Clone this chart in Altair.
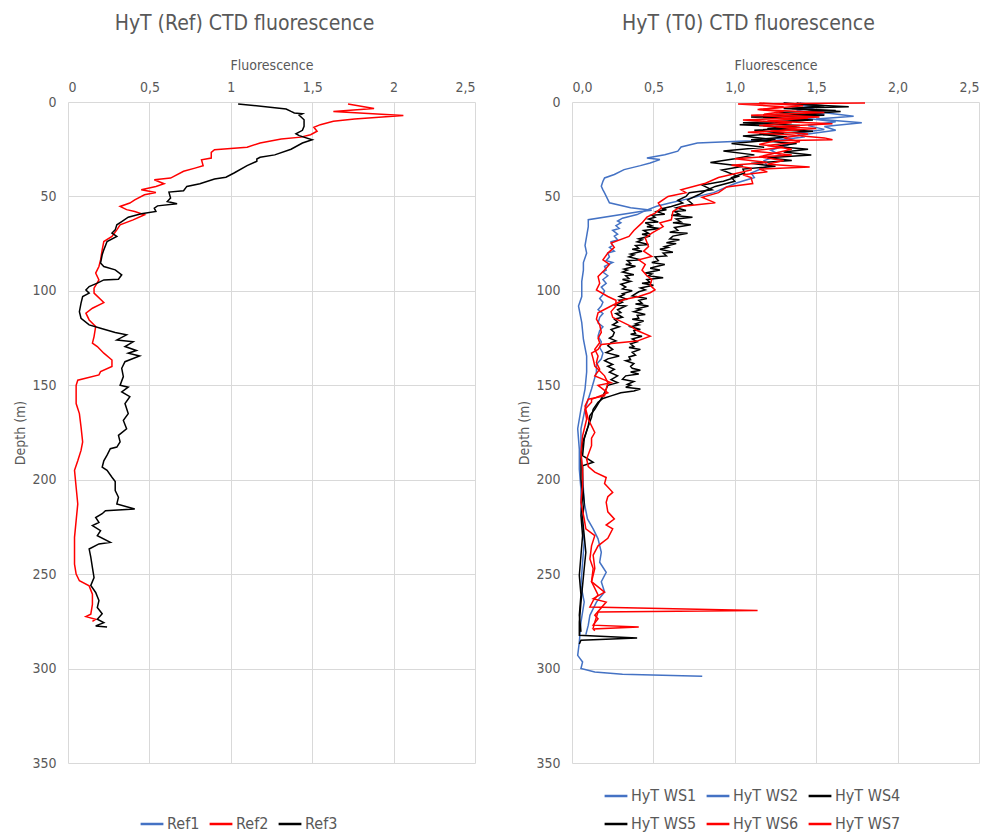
import altair as alt
import pandas as pd

BLUE = "#4472C4"
RED = "#FF0000"
BLACK = "#000000"
GREY = "#595959"
FONT = "Liberation Sans Narrow, DejaVu Sans Condensed, Roboto, sans-serif"

# (depth m, fluorescence)
ref2 = [(1, 1.72), (3.5, 1.88), (5, 1.63), (7.2, 2.06), (9, 1.76), (10.2, 1.63), (12, 1.55), (13.4, 1.51),
        (15.5, 1.53), (17.3, 1.49), (18.6, 1.43), (19.6, 1.31), (21.7, 1.18), (23.9, 1.10), (25.3, 0.90),
        (26.7, 0.88), (29.7, 0.88), (30.6, 0.82), (33.7, 0.83), (35, 0.78), (36.7, 0.71), (40.3, 0.63),
        (41.2, 0.53), (43.3, 0.59), (44.7, 0.54), (46.5, 0.45), (47.9, 0.54), (49.1, 0.47), (51.8, 0.41),
        (53.5, 0.38), (55.3, 0.32), (57, 0.36), (58, 0.41), (59.7, 0.47), (62.4, 0.40), (65, 0.32),
        (67.7, 0.30), (71.2, 0.27), (73.9, 0.22), (78.3, 0.21), (83.6, 0.20), (87.1, 0.19), (90.6, 0.17),
        (94.2, 0.19), (98.6, 0.16), (101.2, 0.16), (106.2, 0.22), (109.2, 0.15), (111.8, 0.11), (115.4, 0.13),
        (118.9, 0.17), (124.2, 0.16), (127.7, 0.15), (129.5, 0.18), (133, 0.22), (136.6, 0.27), (140, 0.27),
        (142.8, 0.20), (144.5, 0.19), (147.3, 0.06), (150, 0.05), (159.7, 0.05), (165, 0.07), (172, 0.08),
        (180, 0.09), (184.5, 0.08), (190, 0.06), (195, 0.04), (204, 0.05), (212.8, 0.06), (221.7, 0.05),
        (230.5, 0.04), (244.7, 0.04), (250, 0.05), (253.5, 0.07), (256.2, 0.13), (260.6, 0.15), (266, 0.15),
        (271.2, 0.14), (272.5, 0.11), (273.9, 0.17), (275, 0.15)]

ref3 = [(1, 1.045), (3.7, 1.34), (5, 1.37), (5.8, 1.39), (6.2, 1.44), (7, 1.42), (9.4, 1.45), (12.9, 1.45),
        (15, 1.44), (16.8, 1.40), (17.8, 1.42), (20, 1.50), (21.7, 1.44), (25, 1.37), (28, 1.27), (29.3, 1.18),
        (30.2, 1.16), (31.4, 1.16), (33.7, 1.10), (37.6, 1.02), (39.8, 0.97), (40.8, 0.90), (43.3, 0.81),
        (44.7, 0.73), (47, 0.71), (47.7, 0.62), (50.9, 0.63), (52.7, 0.61), (53.9, 0.67), (55, 0.55),
        (56.2, 0.53), (58, 0.54), (59.2, 0.45), (61, 0.37), (63.3, 0.33), (65, 0.30), (67.7, 0.29),
        (69.4, 0.27), (71.2, 0.30), (73.9, 0.24), (78.3, 0.22), (80.9, 0.21), (85.3, 0.20), (87.1, 0.22),
        (88.9, 0.29), (91.5, 0.33), (93.8, 0.31), (94.2, 0.22), (95.9, 0.18), (97.7, 0.13), (99.5, 0.11),
        (101.2, 0.13), (103, 0.09), (106.5, 0.08), (111, 0.07), (114.5, 0.08), (118, 0.13), (119.8, 0.20),
        (122, 0.29), (123.3, 0.36), (126, 0.30), (127, 0.40), (129.5, 0.35), (131.6, 0.42), (133, 0.37),
        (134.5, 0.44), (137.5, 0.35), (141, 0.33), (145.4, 0.34), (150, 0.32), (151, 0.37), (153.5, 0.33),
        (156, 0.38), (159.7, 0.35), (165, 0.37), (168.6, 0.34), (173, 0.36), (176.5, 0.31), (180, 0.32),
        (182.7, 0.30), (183.6, 0.26), (187, 0.24), (190, 0.22), (193.4, 0.21), (195, 0.24), (198.7, 0.27),
        (201, 0.29), (205.8, 0.29), (209.3, 0.31), (212.8, 0.30), (215.5, 0.41), (216.4, 0.23), (218, 0.21),
        (220, 0.17), (222.6, 0.19), (224.3, 0.15), (227, 0.20), (229.6, 0.18), (233.2, 0.26), (234, 0.19),
        (236.7, 0.13), (241, 0.14), (246.5, 0.15), (251.8, 0.16), (256, 0.14), (259.7, 0.17), (264, 0.19),
        (267.7, 0.18), (271, 0.21), (273.9, 0.18), (275.7, 0.22), (277.4, 0.17), (278, 0.24)]

ws1 = [(0.5, 1.40), (2, 1.52), (4, 1.45), (6, 1.58), (7.6, 1.73), (9, 1.50), (11, 1.78), (13, 1.55),
       (15, 1.62), (17, 1.45), (19, 1.28), (20.5, 1.10), (21.7, 0.77), (23.8, 0.67), (26, 0.65), (27.9, 0.57),
       (29.6, 0.46), (30.5, 0.54), (32.3, 0.48), (33.7, 0.42), (35.8, 0.32), (38.4, 0.26), (40.2, 0.20),
       (42, 0.19), (44.6, 0.18), (46.5, 0.19), (48.1, 0.20), (53.4, 0.23), (56, 0.36), (57.3, 0.49),
       (58, 0.42), (62.3, 0.10), (66, 0.10), (71, 0.09), (76, 0.08), (80, 0.09), (85, 0.07), (89, 0.07),
       (95, 0.06), (103, 0.06), (108, 0.04), (116.8, 0.06), (125.6, 0.07), (134.5, 0.09), (143, 0.09),
       (152, 0.08), (162.7, 0.055), (173, 0.035), (183.8, 0.045), (194.4, 0.045), (205, 0.055), (215.5, 0.055),
       (224.3, 0.065), (233, 0.075), (243.7, 0.065), (256, 0.055), (264.8, 0.075), (275.4, 0.055), (286, 0.045),
       (293, 0.035), (296.5, 0.065), (300, 0.055), (301.8, 0.14), (303, 0.31), (304, 0.80)]

ws2 = [(0.5, 1.30), (2.5, 1.48), (4.5, 1.38), (6.5, 1.55), (8.5, 1.42), (10.5, 1.62), (12.5, 1.45),
       (14.5, 1.55), (16.5, 1.38), (18.5, 1.42), (20.5, 1.25), (23, 1.32), (25.5, 1.22), (28, 1.28), (31, 1.18),
       (34, 1.20), (37.6, 1.10), (40, 1.12), (42.9, 1.01), (45, 0.95), (48, 0.87), (51.7, 0.69), (53.5, 0.60),
       (55.2, 0.52), (57.5, 0.45), (59.6, 0.40), (61.5, 0.31), (63, 0.28), (64, 0.30), (65.5, 0.27), (67, 0.29),
       (68, 0.25), (70, 0.28), (71, 0.26), (73, 0.28), (74, 0.24), (76, 0.25), (77, 0.23), (79, 0.26),
       (80, 0.22), (82, 0.23), (84, 0.21), (85, 0.25), (87, 0.20), (89, 0.21), (90, 0.19), (92, 0.22),
       (94, 0.19), (96, 0.21), (98, 0.18), (100, 0.20), (102, 0.19), (104, 0.17), (106, 0.19), (108, 0.18),
       (110, 0.16), (112, 0.19), (114, 0.17), (117, 0.16), (119, 0.19), (121, 0.17), (124, 0.16), (127, 0.18),
       (130, 0.17), (133, 0.19), (136, 0.18), (139, 0.15), (143, 0.15), (152, 0.12), (162.7, 0.08),
       (173, 0.055), (185.6, 0.055), (198, 0.065), (212, 0.075), (220.8, 0.095), (226, 0.13), (231.3, 0.16),
       (238.4, 0.18), (243.7, 0.17), (249, 0.21), (254, 0.18), (259.5, 0.20), (264.8, 0.15), (271.8, 0.11),
       (277, 0.10), (282, 0.085)]

ws4 = [(0.5, 1.38), (1.5, 1.45), (2.5, 1.70), (3.5, 1.30), (4.5, 1.62), (5.5, 1.25), (7, 1.55), (8, 1.10),
       (9.5, 1.48), (11, 1.05), (12.5, 1.40), (14, 1.20), (15.5, 1.48), (17, 1.15), (18.5, 1.32), (20, 1.10),
       (22, 1.38), (23.5, 1.25), (25, 1.45), (26.5, 1.30), (28, 1.47), (29.5, 1.20), (31, 1.35), (32.5, 1.10),
       (34, 1.25), (35.5, 1.05), (37.6, 1.06), (40, 0.98), (42, 1.00), (44.7, 0.88), (47, 0.82), (49, 0.78),
       (51.8, 0.71), (54, 0.74), (56, 0.64), (57.5, 0.70), (58, 0.63), (59.5, 0.66), (60, 0.61), (61, 0.74),
       (62, 0.64), (63.5, 0.67), (64, 0.62), (65, 0.73), (66.5, 0.63), (68, 0.65), (69, 0.60), (69.5, 0.71),
       (71, 0.62), (72.5, 0.60), (73, 0.66), (74.5, 0.58), (75, 0.64), (76.5, 0.57), (77, 0.59), (78, 0.54),
       (79.5, 0.62), (80, 0.56), (81.5, 0.58), (82, 0.51), (84, 0.53), (85, 0.49), (86, 0.57), (87.5, 0.50),
       (88, 0.48), (89, 0.54), (90.5, 0.45), (91, 0.49), (92, 0.47), (93, 0.56), (94, 0.46), (95.5, 0.48),
       (96, 0.43), (97, 0.50), (98.5, 0.42), (99.5, 0.45), (100.5, 0.41), (102.6, 0.37), (104, 0.46),
       (105, 0.41), (106.5, 0.43), (107, 0.39), (108, 0.47), (109.5, 0.40), (110, 0.42), (111, 0.38),
       (112.5, 0.45), (113, 0.40), (114.5, 0.41), (115, 0.37), (116, 0.44), (117.5, 0.39), (118, 0.41),
       (119, 0.36), (120.5, 0.42), (121, 0.38), (122.5, 0.39), (123, 0.36), (124, 0.43), (125.5, 0.37),
       (127, 0.40), (128, 0.36), (129.5, 0.38), (130, 0.35), (131, 0.42), (132.5, 0.37), (134, 0.39),
       (135, 0.35), (136.5, 0.36), (137, 0.33), (138.5, 0.38), (140, 0.36), (141, 0.37), (142, 0.42),
       (143, 0.36), (144, 0.41), (145, 0.33), (146.8, 0.31), (148, 0.38), (149.5, 0.34), (150, 0.36),
       (151, 0.33), (152, 0.42), (153, 0.38), (154, 0.30), (155.6, 0.24), (157, 0.19), (159, 0.16),
       (162.7, 0.13), (167, 0.12), (171.5, 0.10), (178.5, 0.075), (187.3, 0.065), (190.8, 0.13),
       (192.6, 0.065), (203, 0.065), (212, 0.075), (220.8, 0.065), (229.6, 0.075), (238.4, 0.085),
       (247, 0.075), (256, 0.065), (264.8, 0.055), (275.4, 0.045), (282.4, 0.045), (283.8, 0.40),
       (285, 0.055), (287, 0.045)]

ws5 = [(0.5, 1.30), (2, 1.55), (3.5, 1.35), (5, 1.65), (6.5, 1.40), (8, 1.18), (9.5, 1.45), (11, 1.25),
       (12, 1.03), (13.5, 1.38), (15, 1.12), (16.5, 1.30), (18, 1.05), (20, 1.25), (22, 0.98), (24, 1.18),
       (26, 0.93), (28, 1.12), (30, 1.00), (32, 0.85), (34, 1.05), (36, 0.92), (39.4, 1.02), (42, 0.93),
       (44, 0.80), (46.5, 0.86), (48, 0.72), (50, 0.70), (52, 0.65), (53.5, 0.68), (55.3, 0.61), (56.5, 0.55),
       (57, 0.58), (58, 0.52), (59.5, 0.57), (60, 0.49), (61, 0.51), (62, 0.47), (63.5, 0.53), (64, 0.45),
       (65.5, 0.49), (66, 0.46), (67, 0.54), (68, 0.44), (69.5, 0.47), (70, 0.43), (71, 0.48), (72.5, 0.41),
       (73, 0.43), (74, 0.40), (75.5, 0.47), (76, 0.39), (77.5, 0.41), (78, 0.37), (79, 0.43), (80.5, 0.36),
       (81, 0.38), (82, 0.35), (83.5, 0.42), (84, 0.34), (85.5, 0.36), (86, 0.33), (87, 0.39), (88.5, 0.32),
       (89, 0.34), (90, 0.31), (91.5, 0.38), (92, 0.33), (93.5, 0.35), (94, 0.31), (95, 0.36), (96.5, 0.30),
       (98, 0.33), (99, 0.31), (100, 0.37), (101.5, 0.31), (102, 0.32), (103, 0.29), (104.5, 0.34),
       (105, 0.29), (106, 0.31), (107.5, 0.27), (108, 0.33), (110, 0.28), (111.5, 0.30), (112, 0.27),
       (114, 0.31), (115, 0.26), (116.5, 0.28), (118, 0.25), (119, 0.29), (120.5, 0.24), (122, 0.26),
       (124, 0.25), (125, 0.23), (126.5, 0.27), (127.4, 0.24), (129, 0.22), (131, 0.25), (132.7, 0.21),
       (134.5, 0.29), (136, 0.22), (137, 0.20), (139, 0.25), (140, 0.22), (141.5, 0.26), (143, 0.23),
       (145, 0.28), (147, 0.24), (148.6, 0.28), (150, 0.22), (152, 0.21), (155.6, 0.19), (162.7, 0.14),
       (166, 0.11), (171.5, 0.10), (180.3, 0.065), (189, 0.055), (199.6, 0.055), (208.5, 0.065), (219, 0.055),
       (229.6, 0.065), (240, 0.055), (250.7, 0.045), (261, 0.055), (271.8, 0.045), (280.6, 0.055)]

ws6 = [(0.5, 1.80), (1, 1.02), (2.5, 1.30), (4, 1.15), (5.5, 1.55), (7, 1.10), (8.5, 1.45), (10, 1.20),
       (11.5, 1.60), (13, 1.25), (14.5, 1.40), (16, 1.08), (17.5, 1.35), (19, 1.55), (20, 1.60), (20.5, 1.25),
       (22.5, 1.15), (24, 1.30), (26, 1.10), (28, 1.35), (30, 1.00), (32, 1.20), (33.5, 0.98), (35, 1.10),
       (36, 1.10), (40, 0.90), (43, 0.82), (46.5, 0.67), (48, 0.70), (50, 0.59), (53.5, 0.53), (56, 0.55),
       (58.8, 0.51), (61, 0.46), (64, 0.43), (68, 0.38), (71.2, 0.35), (74.7, 0.24), (77, 0.26), (80, 0.22),
       (83.6, 0.19), (86, 0.23), (89, 0.20), (92.4, 0.16), (96, 0.17), (99.5, 0.15), (103, 0.22), (105, 0.27),
       (108, 0.27), (111, 0.24), (114, 0.25), (118.7, 0.36), (121, 0.40), (124, 0.48), (126.6, 0.40),
       (128.4, 0.18), (131, 0.16), (133, 0.12), (136, 0.13), (139.8, 0.14), (141.5, 0.16), (145, 0.20),
       (148.6, 0.22), (152, 0.21), (155.6, 0.20), (157.4, 0.10), (161, 0.08), (168, 0.10), (175, 0.14),
       (178, 0.12), (182, 0.12), (189, 0.09), (193, 0.10), (196, 0.14), (198.8, 0.21), (202, 0.20),
       (206.7, 0.25), (209, 0.22), (212, 0.21), (217, 0.22), (220.8, 0.26), (224, 0.21), (226, 0.25),
       (231, 0.22), (235, 0.16), (240, 0.13), (247, 0.14), (254, 0.12), (261, 0.16), (264, 0.13),
       (267.4, 0.11), (269.2, 1.14), (270, 0.16), (275.4, 0.14), (278.5, 0.13)]

ws7 = [(0.5, 1.15), (2, 1.42), (4, 1.14), (5, 1.30), (6.5, 1.18), (8, 1.52), (9.5, 1.05), (11, 1.35),
       (12.5, 1.15), (14, 1.50), (15.5, 1.22), (17, 1.45), (19, 1.30), (21, 1.40), (23, 1.20), (25, 1.35),
       (27, 1.25), (29, 1.15), (31, 1.30), (33, 1.20), (34.4, 1.46), (35.5, 1.15), (37, 1.20), (38.5, 1.05),
       (40, 1.10), (43.2, 1.11), (45, 0.95), (48, 0.90), (50.5, 0.80), (53.4, 0.88), (55.3, 0.67), (58, 0.62),
       (62.4, 0.61), (64, 0.54), (66, 0.56), (69.4, 0.49), (72, 0.45), (76.5, 0.47), (79, 0.44), (81.8, 0.49),
       (83.6, 0.41), (86, 0.45), (89, 0.43), (92, 0.46), (94, 0.49), (97, 0.48), (99.5, 0.51), (101, 0.48),
       (103, 0.41), (104.6, 0.32), (108, 0.24), (111.6, 0.16), (115, 0.15), (118, 0.17), (122, 0.18),
       (125, 0.16), (127.5, 0.17), (131, 0.14), (134.5, 0.16), (138, 0.15), (141.5, 0.17), (145, 0.14),
       (148.6, 0.24), (150, 0.16), (154, 0.22), (157.4, 0.12), (159, 0.12), (162.7, 0.08), (168, 0.09),
       (176.8, 0.065), (185.6, 0.055), (194.4, 0.065), (203, 0.065), (212, 0.055), (220.8, 0.075),
       (226, 0.085), (229.6, 0.14), (235, 0.12), (242, 0.11), (247, 0.13), (254, 0.12), (259.5, 0.20),
       (263, 0.13), (264.8, 0.21), (271.8, 0.14), (273.6, 0.16), (277, 0.13), (278, 0.41), (279, 0.13),
       (280, 0.14)]

ref_names = ["Ref1", "Ref2", "Ref3"]
ref_colors = [BLUE, RED, BLACK]
t0_names = ["HyT WS1", "HyT WS2", "HyT WS4", "HyT WS5", "HyT WS6", "HyT WS7"]
t0_colors = [BLUE, BLUE, BLACK, BLACK, RED, RED]
depth_ticks = [0, 50, 100, 150, 200, 250, 300, 350]
fluo_ticks = [0, 0.5, 1, 1.5, 2, 2.5]


def to_frame(series):
    rows = []
    for name, pts in series:
        for i, (d, v) in enumerate(pts):
            rows.append({"series": name, "depth": d, "fluo": v, "i": i})
    return pd.DataFrame(rows)


def profile_panel(df, names, colors, title, label_expr, legend_x, legend_y):
    return (alt.Chart(df)
            .mark_line(strokeWidth=1.5)
            .encode(
                x=alt.X("fluo:Q", title="Fluorescence",
                        scale=alt.Scale(domain=[0, 2.5], nice=False),
                        axis=alt.Axis(orient="top", values=fluo_ticks, labelExpr=label_expr,
                                      labelPadding=8, titlePadding=8)),
                y=alt.Y("depth:Q", title="Depth (m)",
                        scale=alt.Scale(domain=[0, 350], reverse=True, nice=False),
                        axis=alt.Axis(values=depth_ticks, labelPadding=12, titlePadding=4)),
                color=alt.Color("series:N", sort=names,
                                scale=alt.Scale(domain=names, range=colors),
                                legend=alt.Legend(title=None, orient="none", legendX=legend_x,
                                                  legendY=legend_y, direction="horizontal",
                                                  columns=3, symbolType="stroke", symbolSize=520,
                                                  symbolStrokeWidth=2.5, labelFontSize=16,
                                                  labelFont=FONT, labelColor=GREY, labelOffset=2,
                                                  columnPadding=4, rowPadding=7)),
                order="i:Q",
            )
            .properties(width=407, height=661,
                        title=alt.TitleParams(title, fontSize=21, font=FONT, color=GREY,
                                              fontWeight="normal", anchor="middle",
                                              frame="bounds", offset=24)))


left = profile_panel(to_frame([("Ref2", ref2), ("Ref3", ref3)]), ref_names, ref_colors,
                     "HyT (Ref) CTD fluorescence",
                     "replace(toString(datum.value), '.', ',')", 71, 709)
right = profile_panel(to_frame([("HyT WS1", ws1), ("HyT WS2", ws2), ("HyT WS4", ws4),
                                ("HyT WS5", ws5), ("HyT WS6", ws6), ("HyT WS7", ws7)]),
                      t0_names, t0_colors, "HyT (T0) CTD fluorescence",
                      "replace(format(datum.value, '.1f'), '.', ',')", 31, 681)

chart = (alt.hconcat(left, right, spacing=42)
         .resolve_scale(color="independent")
         .configure_view(stroke=None)
         .configure_axis(grid=True, gridColor="#D9D9D9", gridWidth=1, domain=False, ticks=False,
                         labelFont=FONT, titleFont=FONT, labelFontSize=14, titleFontSize=14,
                         labelColor=GREY, titleColor=GREY, titleFontWeight="normal"))

chart.save("out.html", embed_options={"renderer": "svg", "actions": False})
